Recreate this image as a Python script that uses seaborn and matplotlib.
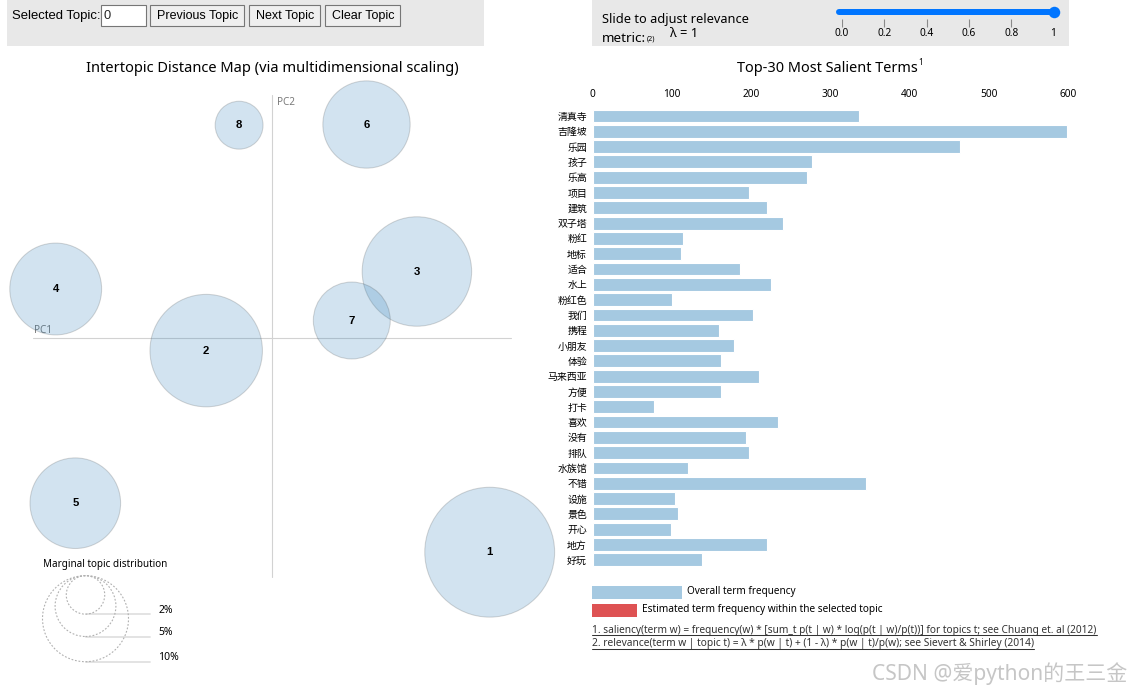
import numpy as np
import pandas as pd
import matplotlib
matplotlib.use("Agg")
import matplotlib.pyplot as plt
from matplotlib.patches import Rectangle, Circle
import seaborn as sns

# ---------------- data ----------------
terms = ["清真寺", "吉隆坡", "乐园", "孩子", "乐高", "项目", "建筑", "双子塔", "粉红", "地标",
         "适合", "水上", "粉红色", "我们", "携程", "小朋友", "体验", "马来西亚", "方便", "打卡",
         "喜欢", "没有", "排队", "水族馆", "不错", "设施", "景色", "开心", "地方", "好玩"]
term_freq = [336, 598, 463, 277, 270, 197, 220, 240, 114, 112,
             186, 225, 100, 202, 160, 178, 162, 210, 162, 78,
             234, 194, 197, 120, 345, 104, 108, 99, 220, 138]
freq_ticks = [0, 100, 200, 300, 400, 500, 600]

topic_ids = [1, 2, 3, 4, 5, 6, 7, 8]
topic_pc1 = [0.311, -0.094, 0.207, -0.309, -0.281, 0.135, 0.114, -0.047]
topic_pc2 = [-0.306, -0.018, 0.095, 0.070, -0.236, 0.305, 0.025, 0.304]
topic_share = [22.8, 17.1, 16.2, 11.4, 11.1, 10.3, 8.0, 3.1]   # marginal topic distribution (%)
marginal_levels = [2, 5, 10]

lambda_ticks = [0.0, 0.2, 0.4, 0.6, 0.8, 1.0]
lambda_labels = ["0.0", "0.2", "0.4", "0.6", "0.8", "1"]
lambda_value = 1

# ---------------- style ----------------
sns.set_style("white")
plt.rcParams["font.family"] = ["Noto Sans", "Noto Sans CJK SC", "DejaVu Sans"]
plt.rcParams["axes.unicode_minus"] = False

DPI = 100
W, H = 1130, 695
fig = plt.figure(figsize=(W / DPI, H / DPI), dpi=DPI)
fig.patch.set_facecolor("white")


def px_axes(x0, y0, x1, y1):
    ax = fig.add_axes([x0 / W, 1 - y1 / H, (x1 - x0) / W, (y1 - y0) / H])
    ax.set_facecolor("none")
    return ax


ui = px_axes(0, 0, W, H)
ui.set_xlim(0, W)
ui.set_ylim(H, 0)
ui.axis("off")
renderer = fig.canvas.get_renderer()


def fit(t, width):
    bb = t.get_window_extent(renderer)
    t.set_fontsize(t.get_fontsize() * width / bb.width)
    return t


BASE = "#1f77b4"
BAR = "#a5c9e1"
RED = "#de5253"
UIGRAY = "#e8e8e8"

# ---------------- top control bars ----------------
ui.add_patch(Rectangle((7, 0), 477, 45.7, fc=UIGRAY, ec="none", zorder=0))
ui.add_patch(Rectangle((591.5, 0), 477.5, 45.7, fc=UIGRAY, ec="none", zorder=0))
fit(ui.text(12.5, 15.7, "Selected Topic:", ha="left", va="center", fontsize=9.3,
            family=["Liberation Sans"], color="black"), 88.2)
ui.add_patch(Rectangle((101.4, 5.3), 44.3, 21, fc="white", ec="#767676", lw=0.8))
ui.text(104, 15.7, "0", ha="left", va="center", fontsize=9.3, family=["Liberation Sans"])
for (bx0, bx1, label, tw) in [(150.4, 244.3, "Previous Topic", 81.1),
                               (248.9, 320.4, "Next Topic", 57.9),
                               (325.4, 400.4, "Clear Topic", 62.1)]:
    ui.add_patch(Rectangle((bx0, 5.3), bx1 - bx0, 21, fc="#efefef", ec="#767676", lw=0.8))
    fit(ui.text((bx0 + bx1) / 2, 15.7, label, ha="center", va="center", fontsize=9.3,
                family=["Liberation Sans"], color="black"), tw)

fit(ui.text(601.8, 20, "Slide to adjust relevance", ha="left", va="center", fontsize=9.5,
            color="black"), 146)
fit(ui.text(601.8, 38.3, "metric:", ha="left", va="center", fontsize=9.5, color="black"), 44.5)
ui.text(647, 39.5, "(2)", ha="left", va="center", fontsize=5.2, color="black")
fit(ui.text(669.8, 33.3, "λ = 1", ha="left", va="center", fontsize=9.5, color="black"), 28)

# slider
axs = px_axes(842, 0, 1053.5, 45)
axs.set_xlim(0, 1)
axs.set_ylim(45, 0)
axs.axis("off")
axs.plot([-0.014, lambda_value], [12, 12], color="#0075ff", lw=6 * 0.72,
         solid_capstyle="round", clip_on=False)
axs.plot([lambda_value], [12], "o", ms=11.5 * 0.72, color="#0075ff", mec="none", clip_on=False)
axs.vlines(lambda_ticks[:-1], 19, 27, color="#8a8a8a", lw=0.8)
for tv, tl in zip(lambda_ticks, lambda_labels):
    axs.text(tv, 33.5, tl, ha="center", va="center", fontsize=7.3, color="black", clip_on=False)

# ---------------- titles ----------------
fit(ui.text(86, 68, "Intertopic Distance Map (via multidimensional scaling)", ha="left",
            va="center", fontsize=10.5, color="black"), 373)
t_title = fit(ui.text(736.7, 68.3, "Top-30 Most Salient Terms", ha="left", va="center",
                      fontsize=10.5, color="black"), 180.6)
bbt = t_title.get_window_extent(renderer)
ui.text(bbt.x1 + 1.0, 62.5, "1", ha="left", va="center", fontsize=5.8, color="black")

# ---------------- intertopic distance map ----------------
SCALE = 700.0           # px per PC unit
OX, OY = 272.0, 338.0   # pixel position of PC origin
LX0, LY0, LX1, LY1 = 0, 75, 570, 690
axl = px_axes(LX0, LY0, LX1, LY1)
axl.set_xlim((LX0 - OX) / SCALE, (LX1 - OX) / SCALE)
axl.set_ylim((OY - LY1) / SCALE, (OY - LY0) / SCALE)
axl.axis("off")


def dx(px):
    return (px - OX) / SCALE


def dy(py):
    return (OY - py) / SCALE


R_UNIT = 43.0 / np.sqrt(10)   # px radius per sqrt(percent)

# PC axes
axl.plot([dx(33), dx(511)], [0, 0], color="#d2d2d2", lw=0.8, zorder=1)
axl.plot([0, 0], [dy(577), dy(95)], color="#d2d2d2", lw=0.8, zorder=1)
axl.text(dx(34), dy(330), "PC1", ha="left", va="center", fontsize=7.2, color="#7a7a7a")
axl.text(dx(277.5), dy(102.3), "PC2", ha="left", va="center", fontsize=7.2, color="#7a7a7a")

dft = pd.DataFrame({"topic": topic_ids, "pc1": topic_pc1, "pc2": topic_pc2, "share": topic_share})
size_map = {p: (2 * R_UNIT * np.sqrt(p) * 72 / DPI) ** 2 for p in topic_share}
sns.scatterplot(data=dft, x="pc1", y="pc2", size="share", sizes=size_map, color=BASE,
                alpha=0.2, edgecolor="#3a3a3a", linewidth=0.75, legend=False, ax=axl, zorder=3)
axl.set_xlim((LX0 - OX) / SCALE, (LX1 - OX) / SCALE)
axl.set_ylim((OY - LY1) / SCALE, (OY - LY0) / SCALE)
axl.set_xlabel("")
axl.set_ylabel("")
for tid, x, y in zip(topic_ids, topic_pc1, topic_pc2):
    axl.text(x, y, str(tid), ha="center", va="center", fontsize=8.2, fontweight="bold",
             family=["Liberation Sans"], color="black", zorder=4)

# marginal topic distribution legend
fit(axl.text(dx(43), dy(565), "Marginal topic distribution", ha="left", va="center",
             fontsize=7.5, color="black"), 125)
top_y = dy(575.7)
cx = dx(85.5)
for lev in marginal_levels:
    r = R_UNIT * np.sqrt(lev) / SCALE
    axl.add_patch(Circle((cx, top_y - r), r, fc="none", ec="#b0b0b0", lw=0.8,
                         ls=(0, (1.6, 1.6)), clip_on=False, zorder=2))
    yb = top_y - 2 * r
    axl.plot([cx, dx(150)], [yb, yb], color="#e0e0e0", lw=1.3, zorder=1)
    axl.text(dx(158.5), yb + 3.8 / SCALE, f"{lev}%", ha="left", va="center",
             fontsize=7.5, color="black")

# ---------------- top-30 salient terms bar chart ----------------
BX0, BX1 = 592.5, 1068.5
NB = len(terms)
first_c, last_c = 116.0, 559.8
step = (last_c - first_c) / (NB - 1)
axb = px_axes(BX0, first_c - step / 2, BX1, last_c + step / 2)
dfb = pd.DataFrame({"term": terms, "freq": term_freq})
sns.barplot(data=dfb, x="freq", y="term", orient="h", color=BAR, saturation=1,
            width=0.84, edgecolor="white", linewidth=0.8, ax=axb)
axb.set_xlim(freq_ticks[0], freq_ticks[-1])
axb.set_ylim(NB - 0.5, -0.5)
axb.xaxis.tick_top()
axb.set_xticks(freq_ticks)
axb.set_xticklabels([str(v) for v in freq_ticks])
axb.tick_params(axis="x", length=0, pad=6.3, labelsize=7.3, colors="black")
axb.tick_params(axis="y", length=0, pad=4.0, labelsize=7.15, colors="black")
axb.set_xlabel("")
axb.set_ylabel("")
for sp in axb.spines.values():
    sp.set_visible(False)
axb.grid(False)

# legend below bars
ui.add_patch(Rectangle((592.3, 586), 89.7, 13.3, fc=BAR, ec="none"))
ui.add_patch(Rectangle((592.3, 604), 45.1, 13.3, fc=RED, ec="none"))
fit(ui.text(687.4, 591.7, "Overall term frequency", ha="left", va="center", fontsize=7.3,
            color="black"), 108)
fit(ui.text(642.3, 609.7, "Estimated term frequency within the selected topic", ha="left",
            va="center", fontsize=7.3, color="black"), 240.5)

# footnotes (underlined)
notes = [("1. saliency(term w) = frequency(w) * [sum_t p(t | w) * log(p(t | w)/p(t))] for topics t; see Chuang et. al (2012)", 630.0, 504.2, 635.3),
         ("2. relevance(term w | topic t) = λ * p(w | t) + (1 - λ) * p(w | t)/p(w); see Sievert & Shirley (2014)", 643.5, 441.7, 648.8)]
for txt, yc, wd, yu in notes:
    t = fit(ui.text(592.3, yc, txt, ha="left", va="center", fontsize=7.3, color="#333333"), wd)
    bb = t.get_window_extent(renderer)
    ui.plot([bb.x0, bb.x1], [yu, yu], color="#333333", lw=0.75)

# watermark
fit(ui.text(1127.5, 673.5, "CSDN @爱python的王三金", ha="right", va="center", fontsize=13,
            color="#c6c6c6"), 255.5)

fig.savefig("out.png", dpi=DPI, facecolor="white")
